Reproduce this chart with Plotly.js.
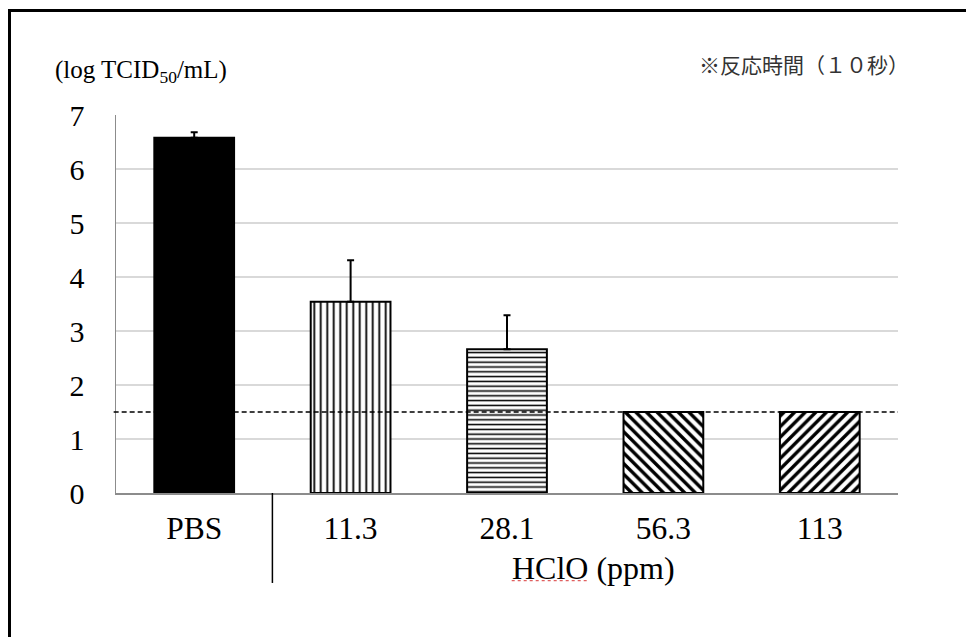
<!DOCTYPE html>
<html>
<head>
<meta charset="utf-8">
<script src="https://cdn.plot.ly/plotly-3.0.1.min.js"></script>
<style>
  html, body { margin: 0; padding: 0; background: #fff; }
  #chart { width: 966px; height: 637px; }
  #frame { position: absolute; left: 8px; top: 9px; width: 2000px; height: 2000px;
           border-left: 3px solid #000; border-top: 3px solid #000; pointer-events: none; }
</style>
</head>
<body>
<div id="chart"></div>
<div id="frame"></div>
<script>
// ---- data ----
const categories = ['PBS', '11.3', '28.1', '56.3', '113'];
const titerValues = [6.58, 3.54, 2.66, 1.5, 1.5];
const titerErrors = [0.1, 0.77, 0.63, null, null];
const detectionLimit = 1.5;
const yTickVals = [0, 1, 2, 3, 4, 5, 6, 7];

// ---- styles ----
const serif = 'Liberation Serif';
const patternShapes = ['|', '-', '\\', '/'];
const patternSizes = [6.5, 4.8, 7.5, 7.5];
const patternSolidity = [0.28, 0.32, 0.45, 0.45];

function errBar(arr) {
  return {
    type: 'data', symmetric: false,
    array: arr, arrayminus: arr.map(() => 0),
    color: '#000', thickness: 2, width: 3.5
  };
}

const pbsTrace = {
  type: 'bar',
  x: categories.slice(0, 1),
  y: titerValues.slice(0, 1),
  width: 0.51,
  marker: { color: '#000000', line: { color: '#000000', width: 2 } },
  error_y: errBar(titerErrors.slice(0, 1)),
  hoverinfo: 'none'
};

const hcloTrace = {
  type: 'bar',
  x: categories.slice(1),
  y: titerValues.slice(1),
  width: 0.51,
  marker: {
    color: '#ffffff',
    line: { color: '#000000', width: 2 },
    pattern: {
      shape: patternShapes,
      size: patternSizes,
      solidity: patternSolidity,
      fgcolor: '#000000',
      bgcolor: '#ffffff',
      fgopacity: 1,
      fillmode: 'replace'
    }
  },
  error_y: errBar(titerErrors.slice(1)),
  hoverinfo: 'none'
};

const layout = {
  width: 966,
  height: 637,
  barmode: 'overlay',
  margin: { l: 116, r: 68, t: 115, b: 144 },
  paper_bgcolor: 'rgba(0,0,0,0)',
  plot_bgcolor: '#fff',
  showlegend: false,
  font: { family: serif, color: '#000' },
  xaxis: {
    type: 'category',
    categoryorder: 'array',
    categoryarray: categories,
    range: [-0.5, 4.5],
    showgrid: false,
    showline: true,
    linecolor: '#8c8c8c',
    linewidth: 1.5,
    ticks: '',
    ticklabelstandoff: 7,
    tickfont: { family: serif, size: 31.5, color: '#000' },
    zeroline: false
  },
  yaxis: {
    range: [0, 7],
    tickvals: yTickVals,
    showgrid: true,
    gridcolor: '#d9d9d9',
    gridwidth: 1.5,
    showline: true,
    linecolor: '#8c8c8c',
    linewidth: 1.5,
    zeroline: false,
    ticks: '',
    ticklabelstandoff: 24,
    tickfont: { family: serif, size: 30, color: '#000' }
  },
  shapes: [
    { type: 'line', xref: 'paper', yref: 'y', x0: -0.003, x1: 1, y0: detectionLimit, y1: detectionLimit,
      line: { color: '#000', width: 1.5, dash: '5px,3px' } },
    { type: 'line', xref: 'x', yref: 'paper', x0: 0.5, x1: 0.5, y0: 0, y1: -0.238,
      line: { color: '#000', width: 1.5 } },
    { type: 'line', xref: 'paper', yref: 'paper', x0: 0.506, x1: 0.602, y0: -0.232, y1: -0.232,
      line: { color: '#e06060', width: 1.2, dash: 'dot' } }
  ],
  annotations: [
    { xref: 'paper', yref: 'paper', x: -0.081, y: 1.116, xanchor: 'left', yanchor: 'middle',
      text: '(log TCID<sub>50</sub>/mL)', showarrow: false,
      font: { family: serif, size: 25, color: '#000' } },
    { xref: 'paper', yref: 'paper', x: 1.016, y: 1.135, xanchor: 'right', yanchor: 'middle',
      text: '※反応時間（１０秒）', showarrow: false,
      font: { family: 'Noto Sans CJK JP', size: 21, color: '#333' } },
    { xref: 'paper', yref: 'paper', x: 0.61, y: -0.198, xanchor: 'center', yanchor: 'middle',
      text: 'HClO (ppm)', showarrow: false,
      font: { family: serif, size: 32, color: '#000' } }
  ]
};

Plotly.newPlot('chart', [pbsTrace, hcloTrace], layout, { displayModeBar: false, staticPlot: true });
</script>
</body>
</html>
